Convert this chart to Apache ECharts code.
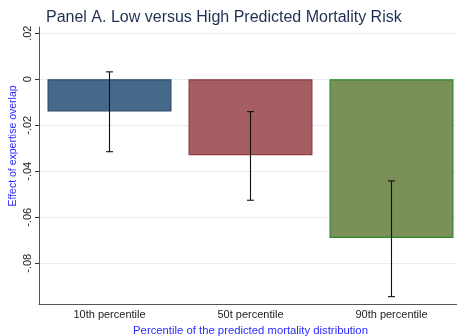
<!DOCTYPE html>
<html><head><meta charset="utf-8">
<script src="https://cdn.jsdelivr.net/npm/echarts@6/dist/echarts.min.js"></script>
<style>html,body{margin:0;padding:0;background:#fff}#c{width:457px;height:336px}</style>
</head><body><div id="c"></div>
<script>
var categories = ['10th percentile', '50t percentile', '90th percentile'];
var effects = [-0.014, -0.033, -0.069];
var ciLow = [-0.0315, -0.0526, -0.0945];
var ciHigh = [0.0032, -0.0141, -0.0442];
var yTicks = [0.02, 0, -0.02, -0.04, -0.06, -0.08];
var fills = ['#476a8b', '#a55e62', '#7a9058'];
var borders = ['#2a4a6c', '#8e3b42', '#2b8a2b'];

function fmt(v){
  if (Math.abs(v) < 1e-9) return '0';
  var s = Math.abs(v).toFixed(2).replace(/^0/, '');
  return (v < 0 ? '-' : '') + s;
}

var chart = echarts.init(document.getElementById('c'));
chart.setOption({
  animation: false,
  title: {text: 'Panel A. Low versus High Predicted Mortality Risk', left: 41, top: 5,
    textStyle: {fontFamily: 'Liberation Sans', fontSize: 16, fontWeight: 'normal', color: '#1f3052'}},
  grid: {left: 39, right: -5, top: 27, bottom: 32, outerBoundsMode: 'none', containLabel: false},
  graphic: [{type: 'text', x: 13, y: 146, rotation: Math.PI / 2,
    style: {text: 'Effect of expertise overlap', fontFamily: 'Liberation Sans', fontSize: 10.5, fill: '#2a2aff',
      align: 'center', verticalAlign: 'middle'}}],
  xAxis: {type: 'category', data: categories,
    axisLine: {onZero: false, lineStyle: {color: '#555', width: 1}},
    axisTick: {alignWithLabel: true, length: 4, lineStyle: {color: '#333'}},
    axisLabel: {fontFamily: 'Liberation Sans', fontSize: 11, color: '#222', margin: 5},
    name: 'Percentile of the predicted mortality distribution', nameLocation: 'middle', nameGap: 19,
    nameTextStyle: {fontFamily: 'Liberation Sans', fontSize: 11.3, color: '#2a2aff'}
  },
  yAxis: {type: 'value', min: -0.0977, max: 0.0227,
    axisLine: {show: true, lineStyle: {color: '#555', width: 1}},
    axisTick: {show: true, length: 4, lineStyle: {color: '#333'},
      customValues: yTicks},
    axisLabel: {customValues: yTicks, formatter: fmt, rotate: 90, fontFamily: 'Liberation Sans', fontSize: 11, color: '#222', margin: 6},
    splitLine: {show: true, lineStyle: {color: '#e8eef0', width: 1}}
  },
  series: [
    {type: 'bar', barWidth: 124,
      data: effects.map(function(v, i){ return {value: v, itemStyle: {color: fills[i], borderColor: borders[i], borderWidth: 1.2}}; })
    },
    {type: 'custom', z: 10,
      data: categories.map(function(c, i){ return [i, ciLow[i], ciHigh[i]]; }),
      renderItem: function(params, api){
        var lo = api.coord([api.value(0), api.value(1)]);
        var hi = api.coord([api.value(0), api.value(2)]);
        var x = lo[0], hw = 3.5;
        var st = {stroke: '#111', lineWidth: 1.1};
        return {type: 'group', children: [
          {type: 'line', shape: {x1: x, y1: lo[1], x2: x, y2: hi[1]}, style: st},
          {type: 'line', shape: {x1: x - hw, y1: lo[1], x2: x + hw, y2: lo[1]}, style: st},
          {type: 'line', shape: {x1: x - hw, y1: hi[1], x2: x + hw, y2: hi[1]}, style: st}
        ]};
      }
    }
  ]
});
</script></body></html>
